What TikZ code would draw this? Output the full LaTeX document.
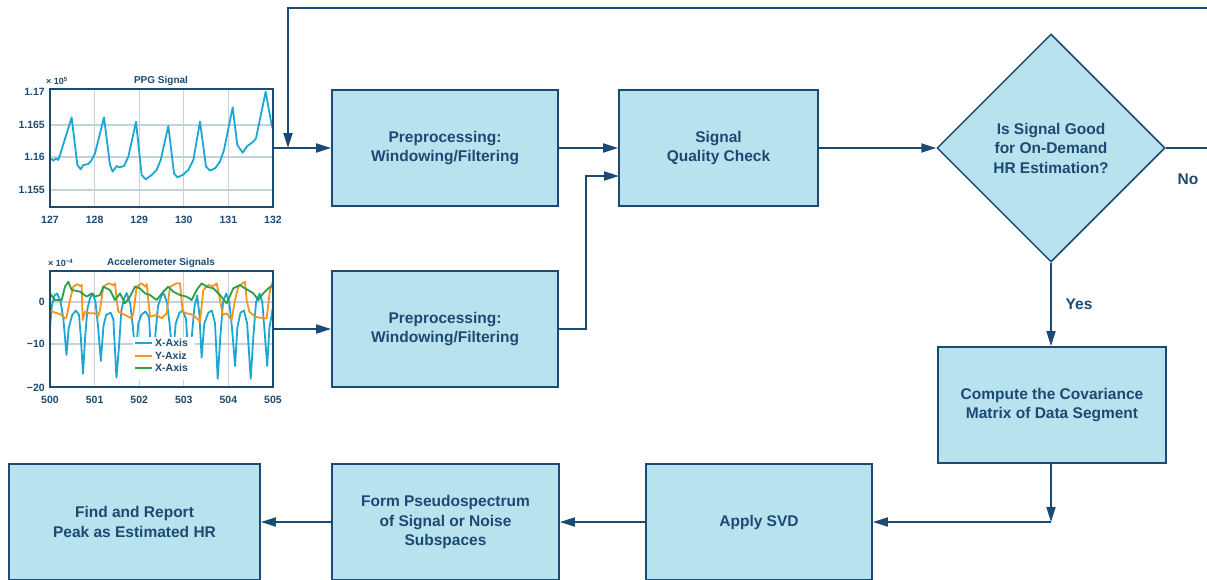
\documentclass[tikz,border=0pt]{standalone}
\usepackage{fontspec}
\setmainfont{Liberation Sans}
\usetikzlibrary{shapes.geometric, arrows.meta}
\definecolor{navy}{HTML}{1B4A72}
\definecolor{boxfill}{HTML}{B9E2EF}
\definecolor{gridc}{HTML}{C5D1DC}
\definecolor{cyanp}{HTML}{1BA6D3}
\definecolor{orangep}{HTML}{F7941E}
\definecolor{greenp}{HTML}{2E9E48}
\begin{document}
\begin{tikzpicture}[x=1pt,y=-1pt,
  box/.style={draw=navy, fill=boxfill, line width=1.8pt, text=navy, align=center, inner sep=0pt,
    font=\fontsize{15.5}{19.5}\selectfont\bfseries},
  arr/.style={draw=navy, line width=1.8pt, -{Triangle[length=15pt,width=9pt]}},
  ln/.style={draw=navy, line width=1.8pt},
  ticklbl/.style={text=navy, font=\fontsize{10.5}{12}\selectfont\bfseries, inner sep=0pt},
  titlelbl/.style={text=navy, font=\fontsize{10}{12}\selectfont\bfseries, inner sep=0pt},
  lbl/.style={text=navy, font=\fontsize{15.5}{19}\selectfont\bfseries, inner sep=0pt},
  gridl/.style={draw=gridc, line width=1.2pt},
  plotframe/.style={draw=navy, line width=2pt, inner sep=0pt},
  curve/.style={line width=1.8pt, line join=round}]
\useasboundingbox (0,0) rectangle (1207,579);

% ---------- PPG plot ----------
\foreach \gx in {94.6,139.2,183.8,228.4} \draw[gridl] (\gx,89) -- (\gx,207);
\foreach \gy in {125,157,190} \draw[gridl] (50,\gy) -- (273,\gy);
\begin{scope}[shift={(0,60)}, x=0.33333pt, y=-0.33333pt]
  \clip (150,88) rectangle (819,441);
  \draw[curve, cyanp] plot coordinates {(150,297) (155,297) (160,302) (168,295) (175,300) (180,285) (215,172) (232,315) (242,328) (250,315) (265,312) (275,300) (285,280) (312,172) (330,315) (338,335) (350,318) (358,322) (372,318) (385,290) (408,185) (425,345) (437,358) (455,345) (470,330) (482,300) (505,198) (522,340) (532,352) (548,345) (565,330) (580,300) (600,185) (618,320) (630,332) (645,325) (660,305) (672,270) (698,142) (712,255) (728,278) (742,258) (760,245) (768,235) (797,95) (815,195) (822,215)};
\end{scope}
\node[plotframe, minimum width=223pt, minimum height=118pt] (ppg) at (161.5,148) {};
\node[titlelbl] at (161,81) {PPG Signal};
\node[titlelbl, anchor=west, font=\fontsize{9}{11}\selectfont\bfseries] at (46,81) {× 10\textsuperscript{5}};
\node[ticklbl, anchor=east] at (45,92) {1.17};
\node[ticklbl, anchor=east] at (45,125) {1.165};
\node[ticklbl, anchor=east] at (45,157) {1.16};
\node[ticklbl, anchor=east] at (45,190) {1.155};
\foreach \lx/\lt in {50/127,94.6/128,139.2/129,183.8/130,228.4/131,273/132}
  \node[ticklbl] at (\lx,220) {\lt};

% ---------- Accelerometer plot ----------
\foreach \gx in {94.6,139.2,183.8,228.4} \draw[gridl] (\gx,271) -- (\gx,387);
\foreach \gy in {302,344} \draw[gridl] (50,\gy) -- (273,\gy);
\begin{scope}[shift={(50,302)}, x=44.6pt, y=4.27pt]
  \clip (0,7.3) rectangle (5,-20.4);
  \draw[curve, cyanp] plot coordinates {(0,-6) (0.04,-1) (0.1,1.5) (0.16,2) (0.24,0) (0.3,-4) (0.37,-12.4) (0.42,-6) (0.5,-3) (0.58,-2) (0.65,-3) (0.69,-8) (0.74,-16.8) (0.79,-8) (0.84,-1.5) (0.9,1) (0.96,2) (1.02,0) (1.08,-6) (1.14,-13.8) (1.2,-5.5) (1.26,-3) (1.36,-2.5) (1.42,-4) (1.49,-17.7) (1.55,-10) (1.6,-2) (1.66,0.8) (1.72,2.1) (1.8,-0.5) (1.86,-6) (1.92,-13) (1.98,-5) (2.05,-3) (2.14,-2.2) (2.22,-3.5) (2.29,-17) (2.36,-8) (2.42,-1) (2.5,1.5) (2.55,2) (2.62,0) (2.68,-5) (2.75,-13) (2.82,-5) (2.9,-2.5) (2.98,-2) (3.05,-4) (3.12,-16) (3.18,-8) (3.24,-1) (3.3,1.5) (3.35,-3) (3.4,-13) (3.46,-5) (3.55,-2.5) (3.63,-2) (3.7,-5) (3.76,-18) (3.82,-8) (3.88,0) (3.95,2) (4.02,0) (4.08,-6) (4.15,-15) (4.2,-6) (4.27,-2.5) (4.35,-2) (4.42,-5) (4.5,-18) (4.56,-8) (4.62,0) (4.7,2) (4.76,0) (4.82,-8) (4.87,-15) (4.92,-6) (4.97,-3) (5,-1)};
\end{scope}
\begin{scope}[shift={(0,250)}, x=0.33333pt, y=-0.33333pt]
  \clip (150,63) rectangle (819,411);
  \draw[curve, orangep] plot coordinates {(150,182) (165,188) (180,192) (195,205) (200,200) (210,150) (220,110) (232,102) (240,108) (245,105) (248,210) (255,185) (268,190) (285,190) (295,198) (300,180) (310,110) (325,100) (340,105) (345,100) (350,150) (355,185) (375,195) (395,205) (400,190) (410,110) (425,100) (435,110) (440,102) (445,150) (450,200) (470,195) (485,205) (500,190) (510,110) (530,100) (540,100) (548,185) (560,190) (580,195) (600,215) (610,120) (625,105) (640,108) (650,100) (660,150) (668,195) (680,190) (695,210) (705,150) (715,110) (735,95) (740,150) (748,185) (765,200) (790,205) (800,205) (810,120) (820,90)};
  \draw[curve, greenp] plot coordinates {(150,130) (165,150) (185,150) (195,110) (205,95) (215,120) (240,125) (260,140) (275,130) (285,140) (300,135) (310,110) (330,120) (345,150) (360,130) (375,160) (390,140) (405,110) (420,115) (435,130) (450,135) (470,150) (490,125) (505,110) (520,125) (540,135) (560,140) (575,150) (590,120) (605,100) (620,110) (640,115) (660,135) (680,160) (700,115) (720,105) (735,115) (760,130) (775,150) (790,130) (805,115) (820,105)};
\end{scope}
\fill[white] (133,337) rectangle (195,380);
\draw[curve, cyanp] (135,343) -- (152,343);
\draw[curve, orangep] (135,356) -- (152,356);
\draw[curve, greenp] (135,368) -- (152,368);
\node[ticklbl, anchor=west] at (155,343) {X-Axis};
\node[ticklbl, anchor=west] at (155,356) {Y-Axiz};
\node[ticklbl, anchor=west] at (155,368) {X-Axis};
\node[plotframe, minimum width=223pt, minimum height=116pt] (acc) at (161.5,329) {};
\node[titlelbl] at (161,263) {Accelerometer Signals};
\node[titlelbl, anchor=west, font=\fontsize{9}{11}\selectfont\bfseries] at (48,263) {× 10\textsuperscript{−4}};
\node[ticklbl, anchor=east] at (45,302) {0};
\node[ticklbl, anchor=east] at (45,344) {−10};
\node[ticklbl, anchor=east] at (45,388) {−20};
\foreach \lx/\lt in {50/500,94.6/501,139.2/502,183.8/503,228.4/504,273/505}
  \node[ticklbl] at (\lx,400) {\lt};

% ---------- Flow boxes ----------
\node[box, minimum width=226pt, minimum height=116pt] (pre1) at (445,148) {Preprocessing:\\Windowing/Filtering};
\node[box, minimum width=226pt, minimum height=116pt] (pre2) at (445,329) {Preprocessing:\\Windowing/Filtering};
\node[box, minimum width=199pt, minimum height=116pt] (sqc) at (718.5,148) {Signal\\Quality Check};
\node[box, shape=diamond, line width=1.5pt, minimum width=228pt, minimum height=228pt] (dec) at (1051,148) {Is Signal Good\\for On-Demand\\HR Estimation?};
\node[box, minimum width=228pt, minimum height=116pt] (cov) at (1052,405) {Compute the Covariance\\Matrix of Data Segment};
\node[box, minimum width=226pt, minimum height=116pt] (svd) at (759,522) {Apply SVD};
\node[box, minimum width=227pt, minimum height=116pt] (pseudo) at (445.5,522) {Form Pseudospectrum\\of Signal or Noise\\Subspaces};
\node[box, minimum width=251pt, minimum height=116pt] (find) at (134.5,522) {Find and Report\\Peak as Estimated HR};

% ---------- Connectors ----------
\coordinate (loopR) at (1207,8);
\coordinate (loopTop) at (288,8);
\coordinate (jn) at (288,148);
\coordinate (noR) at (1207,148);
\coordinate (sqcIn) at (619,176);
\coordinate (bend) at (586,329);
\coordinate (crn) at (dec.south |- svd.east);

\draw[arr] (loopR) -- (loopTop) -- (jn);
\draw[arr] (ppg.east) -- (pre1.west);
\draw[arr] (pre1.east) -- (sqc.west);
\draw[arr] (pre2.east) -- (bend) |- (sqcIn);
\draw[arr] (acc.east) -- (pre2.west);
\draw[arr] (sqc.east) -- (dec.west);
\draw[ln] (dec.east) -- (noR);
\draw[arr] (dec.south) -- (dec.south |- cov.north);
\draw[arr] (dec.south |- cov.south) -- (crn);
\draw[arr] (crn) -- (svd.east);
\draw[arr] (svd.west) -- (pseudo.east);
\draw[arr] (pseudo.west) -- (find.east);

\node[lbl] at (1188,179) {No};
\node[lbl] at (1079,304) {Yes};
\end{tikzpicture}
\end{document}
